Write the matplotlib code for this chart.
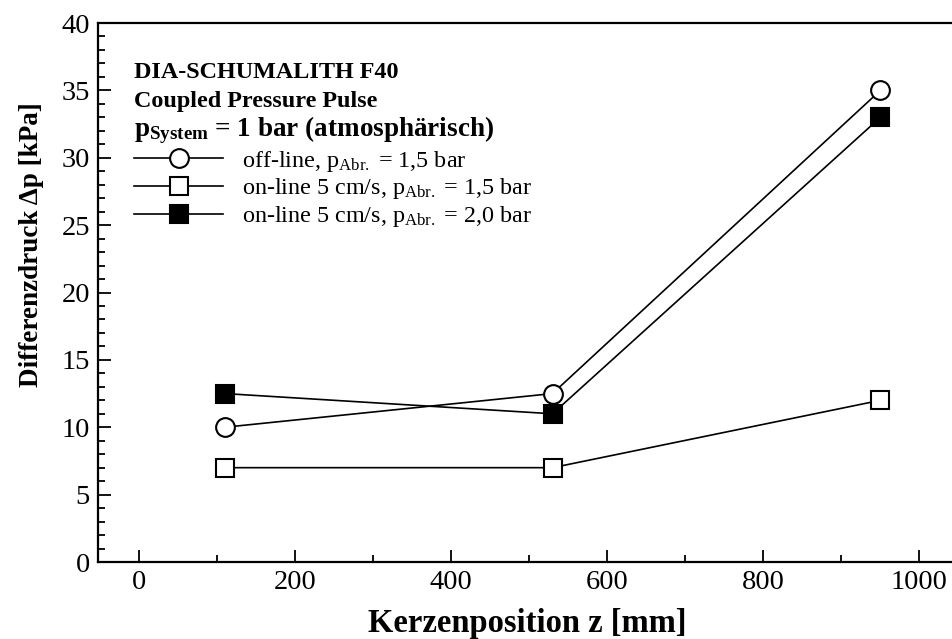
import matplotlib
matplotlib.use('Agg')
from matplotlib import pyplot as plt
from matplotlib.ticker import MultipleLocator

plt.rcParams['font.family'] = ['Liberation Serif', 'DejaVu Serif']
plt.rcParams['mathtext.fontset'] = 'custom'
plt.rcParams['mathtext.rm'] = 'Liberation Serif'
plt.rcParams['mathtext.it'] = 'Liberation Serif:italic'
plt.rcParams['mathtext.bf'] = 'Liberation Serif:bold'

# Kerzenposition z [mm]
z = [110, 530, 950]
# Differenzdruck [kPa]
dp_offline_15 = [10.0, 12.5, 35.0]
dp_online_15 = [7.0, 7.0, 12.0]
dp_online_20 = [12.5, 11.0, 33.0]

labels = [
    r'off-line, $\mathrm{p_{Abr.}}$ = 1,5 bar',
    r'on-line 5 cm/s, $\mathrm{p_{Abr.}}$ = 1,5 bar',
    r'on-line 5 cm/s, $\mathrm{p_{Abr.}}$ = 2,0 bar',
]
header = ['DIA-SCHUMALITH F40',
          'Coupled Pressure Pulse',
          r'$\mathbf{p_{System}}$ = 1 bar (atmosphärisch)']
header_size = [17.4, 17.4, 19.5]
header_y = [0.909, 0.855, 0.801]

fig = plt.figure(figsize=(9.53, 6.39), dpi=100)
ax = fig.add_axes([0.103, 0.1205, 0.897, 0.8435])

style = dict(color='black', lw=1.2, markersize=13.5, markeredgewidth=1.5,
             markeredgecolor='black')
ax.plot(z, dp_offline_15, marker='o', markerfacecolor='white', label=labels[0], **style)
ax.plot(z, dp_online_15, marker='s', markerfacecolor='white', label=labels[1], **style)
ax.plot(z, dp_online_20, marker='s', markerfacecolor='black', label=labels[2], **style)

ax.set_xlim(-52, 1043)
ax.set_ylim(0, 40)
ax.xaxis.set_major_locator(MultipleLocator(200))
ax.xaxis.set_minor_locator(MultipleLocator(100))
ax.yaxis.set_major_locator(MultipleLocator(5))
ax.yaxis.set_minor_locator(MultipleLocator(1))
ax.tick_params(which='major', direction='in', length=9, width=1.3, labelsize=20.5, pad=6)
ax.tick_params(which='minor', direction='in', length=5, width=1.3)
ax.tick_params(top=False, right=False)

for side in ['left', 'bottom', 'top']:
    ax.spines[side].set_linewidth(1.6)
ax.spines['right'].set_visible(False)

ax.set_xlabel('Kerzenposition z [mm]', fontsize=23.5, fontweight='bold')
ax.set_ylabel('Differenzdruck Δp [kPa]', fontsize=19.5, fontweight='bold')
ax.xaxis.set_label_coords(0.502, -0.085)
ax.yaxis.set_label_coords(-0.063, 0.588)

# header block above the legend entries
for txt, size, y in zip(header, header_size, header_y):
    ax.text(0.042, y, txt, transform=ax.transAxes,
            fontsize=size, fontweight='bold', va='center', ha='left')

ax.legend(loc='upper left', bbox_to_anchor=(0.042, 0.767), frameon=False,
          fontsize=17.4, handlelength=3.7, handletextpad=0.75, labelspacing=0.12,
          borderaxespad=0, borderpad=0)

fig.savefig('out.png', dpi=100)
